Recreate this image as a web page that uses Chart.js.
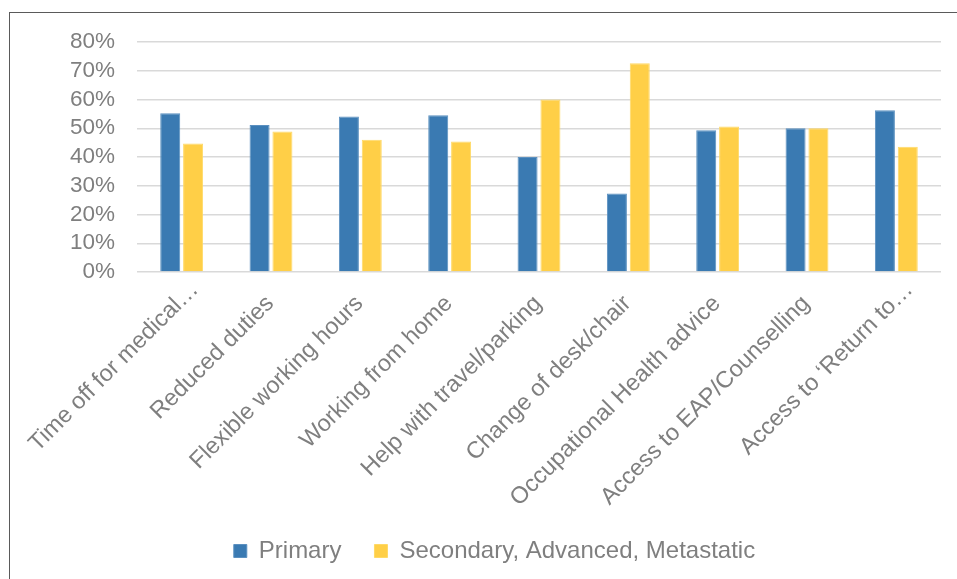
<!DOCTYPE html>
<html lang="en">
<head>
  <meta charset="UTF-8" />
  <title>Workplace support by diagnosis</title>
  <script src="https://cdn.jsdelivr.net/npm/chart.js"></script>
  <style>
    html, body { margin: 0; padding: 0; background: #fff; overflow: hidden; }
    .wrap { position: relative; width: 957px; height: 579px; }
    .frame {
      position: absolute; left: 9px; top: 12px; width: 960px; height: 580px;
      border: 1.3px solid #5a5a5a; box-sizing: border-box; pointer-events: none;
    }
    canvas { position: absolute; left: 0; top: 0; }
  </style>
</head>
<body>
  <div class="wrap">
    <canvas id="grafico" width="957" height="579"></canvas>
    <div class="frame"></div>
  </div>

  <script>
    const categorias = [
      'Time off for medical…',
      'Reduced duties',
      'Flexible working hours',
      'Working from home',
      'Help with travel/parking',
      'Change of desk/chair',
      'Occupational Health advice',
      'Access to EAP/Counselling',
      'Access to ‘Return to…'
    ];
    const primary = [55.2, 51.1, 54.1, 54.5, 40.0, 27.3, 49.3, 50.0, 56.3];
    const secondary = [44.7, 48.9, 46.0, 45.4, 60.0, 72.6, 50.6, 50.0, 43.6];
    const yTicks = [0, 10, 20, 30, 40, 50, 60, 70, 80];

    const cinza = '#7f7f7f';
    const familia = "'Liberation Sans', Arial, sans-serif";

    // plot area in the reference: left 137, top 42, bottom 272, right 941
    const PLOT_TOP = 42, PLOT_BOTTOM = 272, PLOT_LEFT = 137, PLOT_RIGHT = 941;
    const PAD_LEFT = 48, PAD_BOTTOM = 6;

    const ctx = document.getElementById('grafico');
    const grafico = new Chart(ctx, {
      type: 'bar',
      data: {
        labels: categorias,
        datasets: [
          {
            label: 'Primary',
            data: primary,
            backgroundColor: '#3a7ab2',
            borderColor: '#5b90c0',
            borderWidth: 1,
            categoryPercentage: 0.512,
            barPercentage: 0.875
          },
          {
            label: 'Secondary, Advanced, Metastatic',
            data: secondary,
            backgroundColor: '#ffcf47',
            borderColor: '#ffd966',
            borderWidth: 1,
            categoryPercentage: 0.512,
            barPercentage: 0.875
          }
        ]
      },
      options: {
        responsive: false,
        animation: false,
        layout: { padding: { top: PLOT_TOP, right: 957 - PLOT_RIGHT, left: PAD_LEFT, bottom: PAD_BOTTOM } },
        plugins: {
          tooltip: { enabled: false },
          legend: {
            position: 'bottom',
            labels: {
              boxWidth: 13,
              boxHeight: 13,
              padding: 33,
              color: cinza,
              font: { family: familia, size: 24 }
            }
          }
        },
        scales: {
          x: {
            grid: { display: false, drawTicks: false },
            border: { display: false },
            ticks: {
              color: cinza,
              font: { family: familia, size: 23.5 },
              minRotation: 45,
              maxRotation: 45,
              padding: 4,
              labelOffset: 13,
              autoSkip: false,
              // Excel sets full labels a little further back than the cut ones
              callback: function (v) {
                const t = this.getLabelForValue(v);
                return t.endsWith('…') ? t : t + '   ';
              }
            },
            afterFit: (s) => {
              const leg = s.chart.legend ? s.chart.legend.height : 0;
              s.height = 579 - PAD_BOTTOM - leg - PLOT_BOTTOM;
            }
          },
          y: {
            min: 0,
            max: 80,
            afterBuildTicks: (s) => { s.ticks = yTicks.map(v => ({ value: v })); },
            grid: { color: '#d9d9d9', lineWidth: 1.4, drawTicks: false },
            border: { display: false },
            ticks: {
              color: cinza,
              font: { family: familia, size: 22.5, lineHeight: 1 },
              padding: 22,
              autoSkip: false,
              callback: (v) => v + '%'
            },
            afterFit: (s) => { s.width = PLOT_LEFT - PAD_LEFT; }
          }
        }
      }
    });
  </script>
</body>
</html>
